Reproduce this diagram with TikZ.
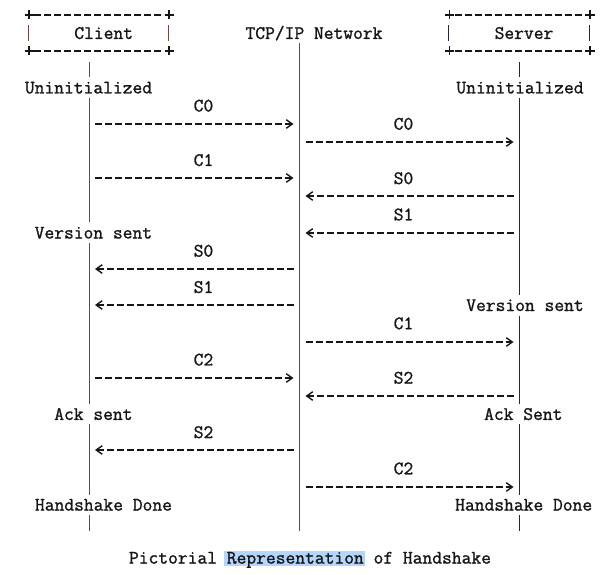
\documentclass[tikz,border=0pt]{standalone}
\usepackage{fontspec}
\newfontfamily\asciifont{Latin Modern Mono}[FakeBold=1.2]
\usepackage{xcolor}
\definecolor{ink}{RGB}{22,22,22}
\definecolor{barcli}{RGB}{108,72,62}
\definecolor{barsrv}{RGB}{36,38,58}
\definecolor{selblue}{RGB}{180,213,252}
\usepackage{tikz}
\usetikzlibrary{arrows.meta,calc}

\tikzset{
  mono/.style={font=\asciifont\fontsize{19}{19}\selectfont, text=ink,
    inner xsep=0pt, inner ysep=4.3pt, text height=11.6pt, text depth=0pt},
  msg/.style={ink, line width=1.8pt, dash pattern=on 7pt off 3pt,
    shorten <=6pt, shorten >=6pt},
  edge/.style={ink, line width=1.8pt, dash pattern=on 7pt off 3pt},
  life/.style={line width=1pt},
}

\begin{document}
\begin{tikzpicture}[x=1pt, y=-1pt, >={Straight Barb[length=6pt,width=8.5pt,line width=1.4pt]}]
    \useasboundingbox[fill=white] (0,0) rectangle (610,575);

    % Ascii style boxes
    \foreach \xl/\xr/\col in {29/169/barcli, 449.5/590/barsrv} {
        \foreach \y in {15,51} {
            \draw[ink, line width=1.4pt] (\xl-4.5,\y) -- (\xl+4.5,\y) (\xl,\y-4.5) -- (\xl,\y+4.5);
            \draw[ink, line width=1.4pt] (\xr-4.5,\y) -- (\xr+4.5,\y) (\xr,\y-4.5) -- (\xr,\y+4.5);
            \draw[edge] (\xl+5,\y) -- (\xr-5,\y);
        }
        \draw[life, \col] (\xl-0.7,25.5) -- (\xl-0.7,41.5) (\xr-0.7,25.5) -- (\xr-0.7,41.5);
    }

    % Headers
    \node[mono] (client) at (103.7,33.1) {Client};
    \node[mono] (network) at (314,33.1) {TCP/IP Network};
    \node[mono] (server) at (524,33.1) {Server};

    % Lifeline ends
    \coordinate (cli) at (89,62);
    \coordinate (net) at (299.5,43.4);
    \coordinate (srv) at (519.5,62);
    \coordinate (cliend) at (89,531);
    \coordinate (netend) at (299.5,531);
    \coordinate (srvend) at (519.5,531);

    % States
    \node[mono] (uninitC) at (88.5,87.6) {Uninitialized};
    \node[mono] (uninitS) at (520,87.6) {Uninitialized};
    \node[mono] (vsentC) at (93.4,232.7) {Version sent};
    \node[mono] (vsentS) at (525,305.2) {Version sent};
    \node[mono] (ackC) at (93.4,414.1) {Ack sent};
    \node[mono] (ackS) at (523.3,414.1) {Ack Sent};
    \node[mono] (doneC) at (103.5,504.8) {Handshake Done};
    \node[mono] (doneS) at (523.7,504.8) {Handshake Done};

    % Lifelines
    \draw[life, barcli] (cli) -- (cli |- uninitC.north) (cli |- uninitC.south) -- (cli |- vsentC.north)
        (cli |- vsentC.south) -- (cli |- ackC.north) (cli |- ackC.south) -- (cli |- doneC.north)
        (cli |- doneC.south) -- (cliend);
    \draw[life, barcli] (net) -- (netend);
    \draw[life, barsrv] (srv) -- (srv |- uninitS.north) (srv |- uninitS.south) -- (srv |- vsentS.north)
        (srv |- vsentS.south) -- (srv |- ackS.north) (srv |- ackS.south) -- (srv |- doneS.north)
        (srv |- doneS.south) -- (srvend);

    % Messages: label row, from, to, text, label x
    \foreach \r/\a/\b/\t/\lx in {
        5/cli/net/C0/203.5, 6/net/srv/C0/403.5, 8/cli/net/C1/203.5,
        9/srv/net/S0/403.5, 11/srv/net/S1/403.5, 13/net/cli/S0/203.5,
        15/net/cli/S1/203.5, 17/net/srv/C1/403.5, 19/cli/net/C2/203.5,
        20/srv/net/S2/403.5, 23/net/cli/S2/203.5, 25/net/srv/C2/403.5} {
        \pgfmathsetmacro{\ylab}{15+18.14*\r}
        \pgfmathsetmacro{\yarr}{round(15+18.14*(\r+1))}
        \node[mono] (lab\r) at (\lx,\ylab) {\t};
        \draw[msg, ->] (\a |- 0,\yarr) -- (\b |- 0,\yarr);
    }

    % Caption
    \fill[selblue] (224,550.7) rectangle (365,566.3);
    \node[mono] (caption) at (310,557.8) {Pictorial Representation of Handshake};
\end{tikzpicture}
\end{document}
